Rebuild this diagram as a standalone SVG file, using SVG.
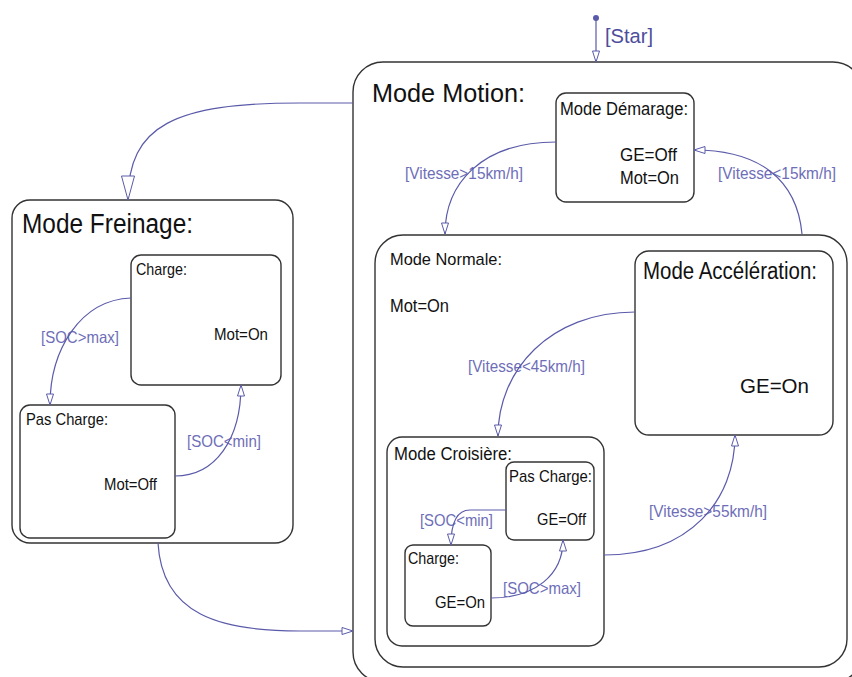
<svg xmlns="http://www.w3.org/2000/svg" width="852" height="677" viewBox="0 0 852 677">
<style>
.box{fill:#fff;stroke:#333;stroke-width:1.4}
.t{font-family:"Liberation Sans",Arial,sans-serif;fill:#111}
.lbl{font-family:"Liberation Sans",Arial,sans-serif;fill:#6e6eb8;font-size:16.5px}
.con{fill:none;stroke:#5a5aaa;stroke-width:1.2}
</style>
<defs>
<marker id="ah" markerUnits="userSpaceOnUse" markerWidth="14" markerHeight="10" refX="11" refY="3.5" orient="auto" overflow="visible">
<path d="M0,0 L11,3.5 L0,7 Z" fill="#fff" stroke="#5a5aaa" stroke-width="1"/>
</marker>
<marker id="ahBig" markerUnits="userSpaceOnUse" markerWidth="26" markerHeight="15" refX="24" refY="6.5" orient="auto" overflow="visible">
<path d="M0,0 L24,6.5 L0,13 Z" fill="#fff" stroke="#5a5aaa" stroke-width="1"/>
</marker>
</defs>
<rect width="852" height="677" fill="#fff"/>

<g id="mode-motion">
<rect class="box" x="353" y="62" width="510" height="620" rx="30"/>
<text class="t" x="372" y="102" font-size="26.5" textLength="153" lengthAdjust="spacingAndGlyphs">Mode Motion:</text>
</g>
<g id="mode-demarage">
<rect class="box" x="556" y="93" width="138" height="109" rx="10"/>
<text class="t" x="560" y="115" font-size="17.5" textLength="128" lengthAdjust="spacingAndGlyphs">Mode Démarage:</text>
<text class="t" x="620" y="161" font-size="17.5" textLength="57" lengthAdjust="spacingAndGlyphs">GE=Off</text>
<text class="t" x="620" y="184" font-size="17.5" textLength="59" lengthAdjust="spacingAndGlyphs">Mot=On</text>
</g>
<g id="mode-normale">
<rect class="box" x="375" y="235" width="472" height="432" rx="28"/>
<text class="t" x="390" y="265" font-size="17" textLength="112" lengthAdjust="spacingAndGlyphs">Mode Normale:</text>
<text class="t" x="390" y="312" font-size="17.5" textLength="59" lengthAdjust="spacingAndGlyphs">Mot=On</text>
</g>
<g id="mode-acceleration">
<rect class="box" x="635" y="251" width="198" height="184" rx="14"/>
<text class="t" x="643" y="279" font-size="23" textLength="174" lengthAdjust="spacingAndGlyphs">Mode Accélération:</text>
<text class="t" x="740" y="393" font-size="21" textLength="69" lengthAdjust="spacingAndGlyphs">GE=On</text>
</g>
<g id="mode-croisiere">
<rect class="box" x="387" y="437" width="217" height="209" rx="15"/>
<text class="t" x="394" y="460" font-size="17.5" textLength="118" lengthAdjust="spacingAndGlyphs">Mode Croisière:</text>
</g>
<g id="croisiere-pas-charge">
<rect class="box" x="506" y="462" width="88" height="78" rx="8"/>
<text class="t" x="509" y="482" font-size="17" textLength="83" lengthAdjust="spacingAndGlyphs">Pas Charge:</text>
<text class="t" x="537" y="525" font-size="17" textLength="49" lengthAdjust="spacingAndGlyphs">GE=Off</text>
</g>
<g id="croisiere-charge">
<rect class="box" x="405" y="545" width="86" height="81" rx="8"/>
<text class="t" x="408" y="564" font-size="17" textLength="51" lengthAdjust="spacingAndGlyphs">Charge:</text>
<text class="t" x="435" y="608" font-size="17" textLength="50" lengthAdjust="spacingAndGlyphs">GE=On</text>
</g>
<g id="mode-freinage">
<rect class="box" x="12" y="200" width="281" height="343" rx="18"/>
<text class="t" x="22" y="233" font-size="27" textLength="171" lengthAdjust="spacingAndGlyphs">Mode Freinage:</text>
</g>
<g id="freinage-charge">
<rect class="box" x="131" y="255" width="150" height="130" rx="10"/>
<text class="t" x="136" y="275" font-size="17" textLength="51" lengthAdjust="spacingAndGlyphs">Charge:</text>
<text class="t" x="214" y="340" font-size="17" textLength="54" lengthAdjust="spacingAndGlyphs">Mot=On</text>
</g>
<g id="freinage-pas-charge">
<rect class="box" x="20" y="405" width="155" height="133" rx="10"/>
<text class="t" x="26" y="425" font-size="17" textLength="82" lengthAdjust="spacingAndGlyphs">Pas Charge:</text>
<text class="t" x="104" y="490" font-size="17" textLength="53" lengthAdjust="spacingAndGlyphs">Mot=Off</text>
</g>

<g id="labels">
<text class="lbl" x="605" y="43" style="font-size:20.5px;fill:#4d4d9c" textLength="48" lengthAdjust="spacingAndGlyphs">[Star]</text>
<text class="lbl" x="405" y="179" textLength="118" lengthAdjust="spacingAndGlyphs">[Vitesse&gt;15km/h]</text>
<text class="lbl" x="718" y="179" textLength="118" lengthAdjust="spacingAndGlyphs">[Vitesse&lt;15km/h]</text>
<text class="lbl" x="468" y="372" textLength="117" lengthAdjust="spacingAndGlyphs">[Vitesse&lt;45km/h]</text>
<text class="lbl" x="649" y="517" textLength="118" lengthAdjust="spacingAndGlyphs">[Vitesse&gt;55km/h]</text>
<text class="lbl" x="41" y="343" textLength="78" lengthAdjust="spacingAndGlyphs">[SOC&gt;max]</text>
<text class="lbl" x="187" y="447" textLength="74" lengthAdjust="spacingAndGlyphs">[SOC&lt;min]</text>
<text class="lbl" x="420" y="526" textLength="73" lengthAdjust="spacingAndGlyphs">[SOC&lt;min]</text>
<text class="lbl" x="503" y="594" textLength="78" lengthAdjust="spacingAndGlyphs">[SOC&gt;max]</text>
</g>

<g id="connectors">
<circle cx="596" cy="18" r="3" fill="#5a5aaa"/>
<path class="con" d="M596,18 L596,62" marker-end="url(#ah)"/>
<path class="con" d="M353,103 L300,103 C175,103 128,125 128,200" marker-end="url(#ahBig)"/>
<path class="con" d="M158,543 C162,615 220,631 300,631 L353,631" marker-end="url(#ah)"/>
<path class="con" d="M131,298 C80,300 50,350 50,405" marker-end="url(#ah)"/>
<path class="con" d="M175,476 C215,476 241,440 241,385" marker-end="url(#ah)"/>
<path class="con" d="M556,142 C480,142 445,185 445,234" marker-end="url(#ah)"/>
<path class="con" d="M802,234 C797,180 760,150 694,150" marker-end="url(#ah)"/>
<path class="con" d="M635,312 C550,312 498,370 498,436" marker-end="url(#ah)"/>
<path class="con" d="M604,555 C690,555 735,500 735,435" marker-end="url(#ah)"/>
<path class="con" d="M506,510 L470,510 C455,510 451,525 451,545" marker-end="url(#ah)"/>
<path class="con" d="M491,598 C535,598 563,575 563,540" marker-end="url(#ah)"/>
</g>
</svg>
